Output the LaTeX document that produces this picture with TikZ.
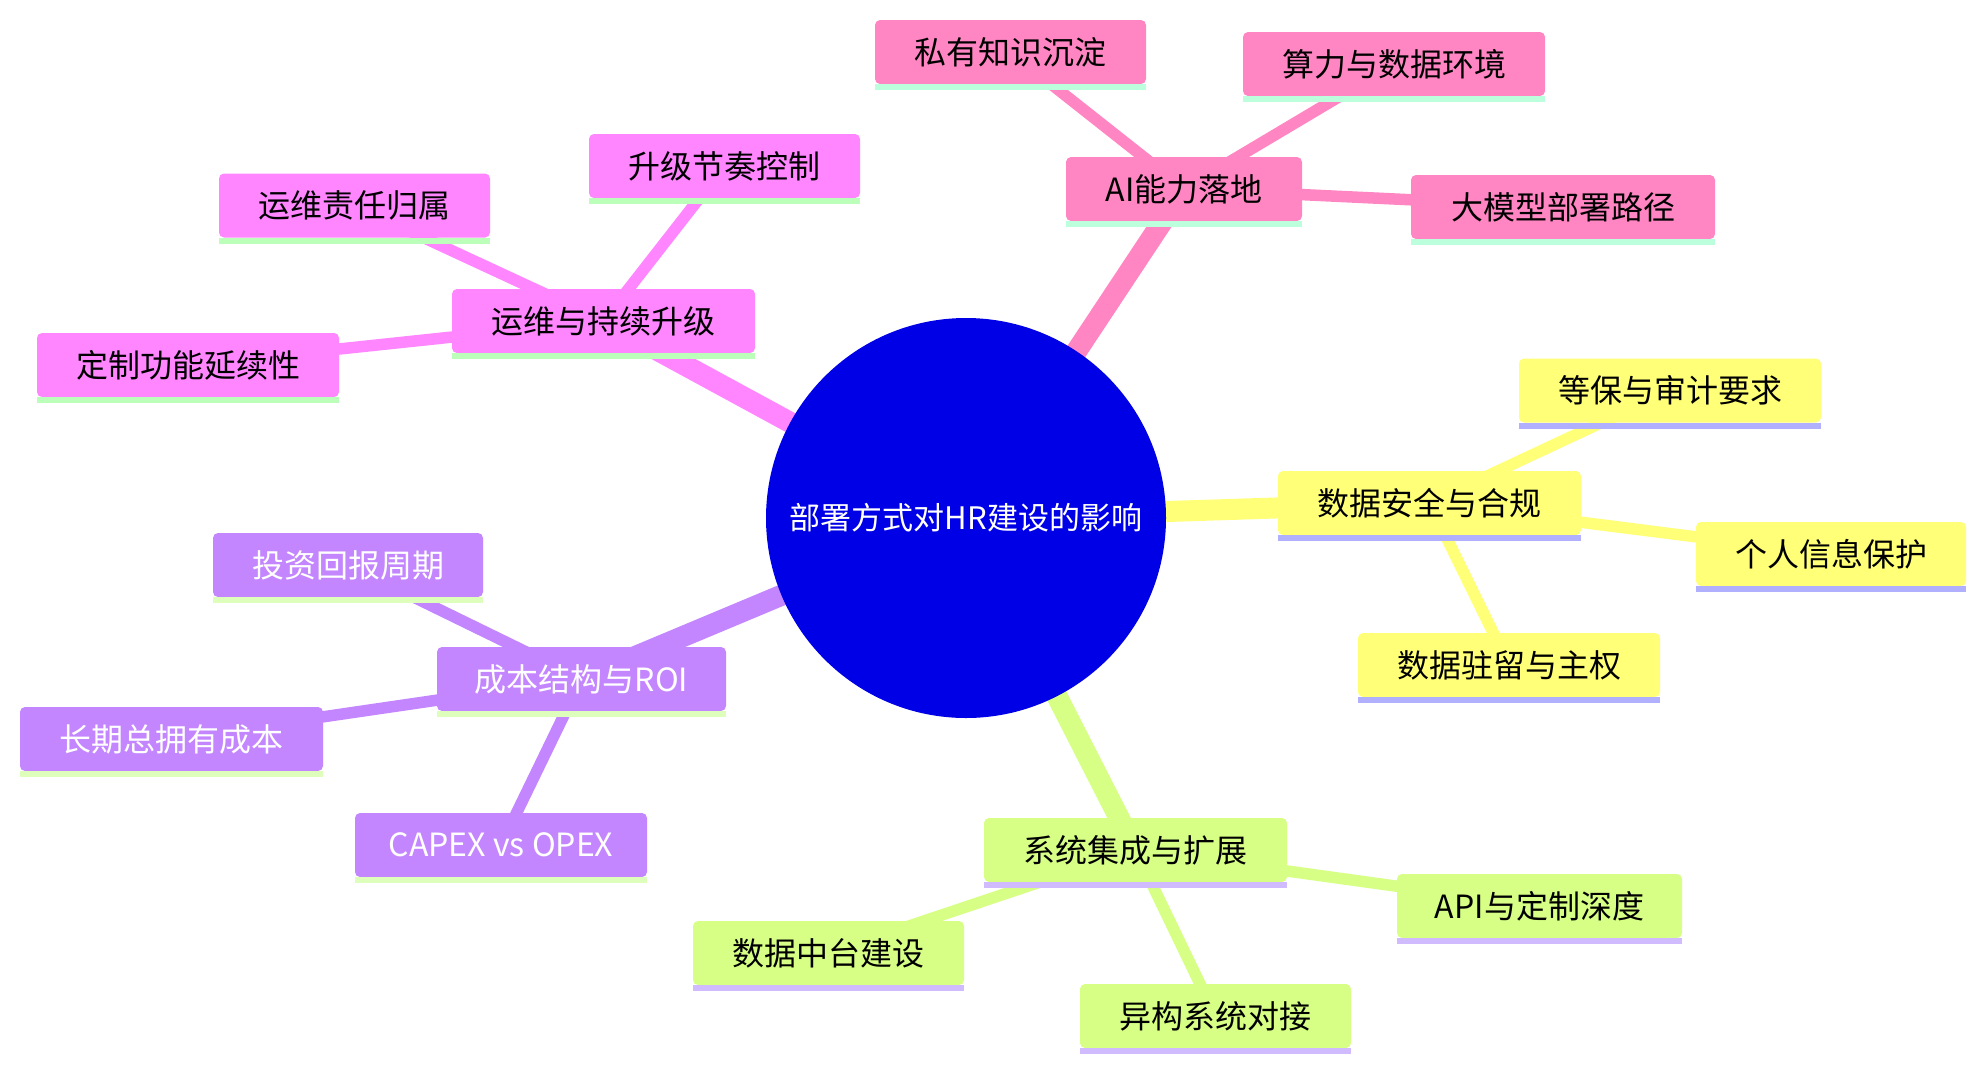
\documentclass[tikz,border=0pt]{standalone}
\usepackage{fontspec}
\setmainfont{Noto Sans CJK SC}
\usetikzlibrary{backgrounds}
\definecolor{cRoot}{RGB}{0,0,230}
\definecolor{cA}{RGB}{255,134,195}
\definecolor{uA}{RGB}{187,255,221}
\definecolor{cB}{RGB}{255,134,255}
\definecolor{uB}{RGB}{187,255,187}
\definecolor{cC}{RGB}{195,134,255}
\definecolor{uC}{RGB}{221,255,187}
\definecolor{cD}{RGB}{215,255,134}
\definecolor{uD}{RGB}{208,187,255}
\definecolor{cE}{RGB}{255,255,120}
\definecolor{uE}{RGB}{176,176,255}
\begin{document}
\begin{tikzpicture}[x=0.5pt,y=-0.5pt,
  root/.style={circle, fill=cRoot, minimum size=200pt, inner sep=0pt, text=white, font=\fontsize{15.5pt}{18pt}\selectfont},
  box/.style={rounded corners=2.5pt, minimum height=32pt, inner xsep=0pt, inner ysep=0pt, text=black, font=\fontsize{16pt}{19pt}\selectfont},
  bw/.style={minimum width=#1},
  mainedge/.style={line width=10.5pt},
  subedge/.style={line width=5.75pt}
]
\useasboundingbox (0,0) rectangle (1986,1072);

% root
\node[root] (root) at (966,518) {部署方式对HR建设的影响};

% AI branch
\node[box, fill=cA, bw=118pt] (ai) at (1184,189) {AI能力落地};
\node[box, fill=cA, bw=135.5pt] (ai1) at (1010.5,52) {私有知识沉淀};
\node[box, fill=cA, bw=151pt] (ai2) at (1394,64) {算力与数据环境};
\node[box, fill=cA, bw=152pt] (ai3) at (1563,207) {大模型部署路径};

% security branch
\node[box, fill=cE, bw=151.5pt] (sec) at (1429.5,503) {数据安全与合规};
\node[box, fill=cE, bw=151pt] (sec1) at (1670,390.5) {等保与审计要求};
\node[box, fill=cE, bw=135pt] (sec2) at (1831,554) {个人信息保护};
\node[box, fill=cE, bw=151pt] (sec3) at (1509,665) {数据驻留与主权};

% integration branch
\node[box, fill=cD, bw=151.5pt] (int) at (1135.5,850) {系统集成与扩展};
\node[box, fill=cD, bw=142.5pt] (int1) at (1539.5,906) {API与定制深度};
\node[box, fill=cD, bw=135.5pt] (int2) at (1215.5,1016) {异构系统对接};
\node[box, fill=cD, bw=135.5pt] (int3) at (828.5,953) {数据中台建设};

% cost branch
\node[box, fill=cC, bw=144.5pt, text=white] (cost) at (581.5,679) {成本结构与ROI};
\node[box, fill=cC, bw=146pt, text=white] (cost1) at (501,845) {CAPEX vs OPEX};
\node[box, fill=cC, bw=135pt, text=white] (cost2) at (348,565) {投资回报周期};
\node[box, fill=cC, bw=151.5pt, text=white] (cost3) at (171.5,739) {长期总拥有成本};

% ops branch
\node[box, fill=cB, bw=151.5pt] (ops) at (603.5,321) {运维与持续升级};
\node[box, fill=cB, bw=135.5pt] (ops1) at (724.5,166) {升级节奏控制};
\node[box, fill=cB, bw=135.5pt] (ops2) at (354.5,205.5) {运维责任归属};
\node[box, fill=cB, bw=151pt] (ops3) at (188,365) {定制功能延续性};

% underlines
\foreach \n/\u in {ai/uA,ai1/uA,ai2/uA,ai3/uA,
                   sec/uE,sec1/uE,sec2/uE,sec3/uE,
                   int/uD,int1/uD,int2/uD,int3/uD,
                   cost/uC,cost1/uC,cost2/uC,cost3/uC,
                   ops/uB,ops1/uB,ops2/uB,ops3/uB}
  \fill[\u] (\n.south west) rectangle ([yshift=-3pt]\n.south east);

% background and edges
\begin{scope}[on background layer]
  \fill[white] (0,0) rectangle (1986,1072);
  \draw[mainedge, cA] (root.center) -- (ai.center);
  \draw[subedge, cA] (ai.center) -- (ai1.center);
  \draw[subedge, cA] (ai.center) -- (ai2.center);
  \draw[subedge, cA] (ai.center) -- (ai3.center);

  \draw[mainedge, cE] (root.center) -- (sec.center);
  \draw[subedge, cE] (sec.center) -- (sec1.center);
  \draw[subedge, cE] (sec.center) -- (sec2.center);
  \draw[subedge, cE] (sec.center) -- (sec3.center);

  \draw[mainedge, cD] (root.center) -- (int.center);
  \draw[subedge, cD] (int.center) -- (int1.center);
  \draw[subedge, cD] (int.center) -- (int2.center);
  \draw[subedge, cD] (int.center) -- (int3.center);

  \draw[mainedge, cC] (root.center) -- (cost.center);
  \draw[subedge, cC] (cost.center) -- (cost1.center);
  \draw[subedge, cC] (cost.center) -- (cost2.center);
  \draw[subedge, cC] (cost.center) -- (cost3.center);

  \draw[mainedge, cB] (root.center) -- (ops.center);
  \draw[subedge, cB] (ops.center) -- (ops1.center);
  \draw[subedge, cB] (ops.center) -- (ops2.center);
  \draw[subedge, cB] (ops.center) -- (ops3.center);
\end{scope}
\end{tikzpicture}
\end{document}
